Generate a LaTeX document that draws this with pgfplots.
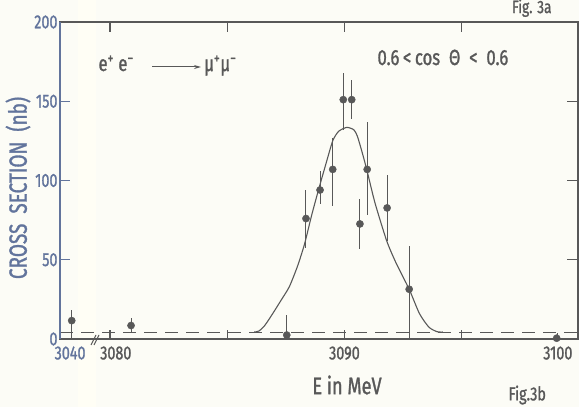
\documentclass[border=0pt]{standalone}
\usepackage{fontspec}
\setmainfont{Fira Sans}[FakeStretch=0.76, FakeBold=1.2]
\usepackage{pgfplots}
\pgfplotsset{compat=1.18}
\usetikzlibrary{arrows.meta}

\definecolor{ink}{RGB}{88,88,88}
\definecolor{slate}{RGB}{98,116,156}
\definecolor{paper}{RGB}{252,252,246}

\begin{document}
\begin{tikzpicture}
\fill[paper] (0,0) rectangle (579bp,407bp);
\useasboundingbox (0,0) rectangle (579bp,407bp);
\fill[yellow!4] (78bp,0) rectangle (96bp,407bp);

\begin{axis}[
  at={(60bp,68bp)}, anchor=south west,
  scale only axis, width=518bp, height=317bp,
  xmin=3077.87, xmax=3099.96, ymin=0, ymax=200,
  clip=false,
  axis line style={ink, line width=1.3bp},
  xtick={3080,3085,3090,3095}, xticklabels={,,3090,},
  ytick={0,50,100,150,200},
  tick align=inside, xtick pos=both, ytick pos=both,
  major tick length=9bp,
  tick style={ink, line width=1.3bp},
  /pgf/number format/assume math mode=true,
  xticklabel style={ink, font=\fontsize{19}{19}\selectfont, yshift=-4bp},
  yticklabel style={slate, font=\fontsize{19}{19}\selectfont, xshift=1bp},
]
% baseline (background level)
\addplot[ink, line width=1bp, dash pattern=on 13bp off 8bp]
  coordinates {(3077.87,4.4) (3099.96,4.4)};

% fitted resonance curve
\addplot[ink, line width=1.1bp, smooth, tension=0.4] coordinates {
  (3086.15,4.4) (3086.35,5) (3086.6,8.5) (3086.94,16) (3087.3,24.5)
  (3087.65,33) (3088.0,46) (3088.3,60) (3088.6,78) (3088.93,96)
  (3089.22,111) (3089.5,125) (3089.75,131) (3090.1,133.5) (3090.4,132)
  (3090.55,128) (3090.75,118) (3090.95,107) (3091.3,86) (3091.8,62)
  (3092.2,48) (3092.76,31.4) (3093.2,16) (3093.6,7.5) (3093.95,4.6)
  (3094.2,4.4)
};

% measured points
\addplot[ink, only marks, mark=*, mark size=3.6bp,
  error bars/.cd, y dir=both, y explicit, error mark=none,
  error bar style={ink, line width=1bp}]
  coordinates {
  (3078.37,11.6) += (0,7) -= (0,11)
  (3080.90,8.5) += (0,4.8) -= (0,4.2)
  (3087.54,2.5) += (0,12.5) -= (0,2.5)
  (3088.36,76) += (0,18) -= (0,18.6)
  (3088.96,94) += (0,12) -= (0,9)
  (3089.50,107) += (0,20) -= (0,23)
  (3089.95,151) += (0,17) -= (0,19)
  (3090.31,151) += (0,12.5) -= (0,12.4)
  (3090.66,72.6) += (0,16) -= (0,16)
  (3090.97,107) += (0,30) -= (0,28.5)
  (3091.82,82.7) += (0,21) -= (0,21)
  (3092.76,31.4) += (0,27) -= (0,31)
  (3099.05,0.5) += (0,0) -= (0,0)
};

% inward ticks as drawn in the scan
\draw[ink, line width=1.3bp]
  (axis cs:3080,200) -- (axis cs:3080,194) (axis cs:3085,200) -- (axis cs:3085,194)
  (axis cs:3090,200) -- (axis cs:3090,194) (axis cs:3095,200) -- (axis cs:3095,194)
  (axis cs:3080,0) -- (axis cs:3080,4) (axis cs:3085,0) -- (axis cs:3085,4)
  (axis cs:3090,0) -- (axis cs:3090,4) (axis cs:3095,0) -- (axis cs:3095,4)
  (axis cs:3099.1,0) -- (axis cs:3099.1,4)
  (axis cs:3099.96,50) -- (axis cs:3099.5,50) (axis cs:3099.96,100) -- (axis cs:3099.5,100)
  (axis cs:3099.96,150) -- (axis cs:3099.5,150);
\draw[slate, line width=1.3bp]
  (axis cs:3077.87,50) -- (axis cs:3078.3,50) (axis cs:3077.87,100) -- (axis cs:3078.3,100)
  (axis cs:3077.87,150) -- (axis cs:3078.3,150);
% left axis line is bluish in the scan
\draw[slate, line width=1.3bp] (rel axis cs:0,0) -- (rel axis cs:0,1);
% labels of the broken scale
\node[slate, anchor=north, font=\fontsize{19}{19}\selectfont, yshift=-4bp]
  at (axis cs:3078.3,0) {3040};
\node[ink, anchor=north, font=\fontsize{19}{19}\selectfont, yshift=-4bp]
  at (axis cs:3080.25,0) {3080};
\node[ink, anchor=north, font=\fontsize{19}{19}\selectfont, yshift=-4bp]
  at (axis cs:3099.1,0) {3100};
\end{axis}

% axis break
\draw[ink, line width=1bp] (91bp,62bp) -- (96bp,72bp);
\draw[ink, line width=1bp] (94bp,62bp) -- (99bp,72bp);

% labels
\node[slate, rotate=90, font=\fontsize{25}{25}\selectfont] at (18bp,219bp)
  {CROSS\ \ SECTION\ \ (nb)};
\node[ink, font=\fontsize{24}{24}\selectfont] at (347bp,22bp) {E in MeV};
\node[ink, anchor=east, font=\fontsize{18}{18}\selectfont] at (555bp,399bp) {Fig. 3a};
\node[ink, anchor=west, font=\fontsize{19}{19}\selectfont] at (505bp,12bp) {Fig.3b};

\node[ink, anchor=base west, font=\fontsize{22}{22}\selectfont] at (95bp,336bp)
  {e\textsuperscript{+}\ e\textsuperscript{−}};
\draw[ink, line width=1bp, -{Stealth[length=7bp,width=4bp]}] (152bp,340bp) -- (201bp,340bp);
\node[ink, anchor=base west, font=\fontsize{22}{22}\selectfont, inner sep=1bp] at (203bp,336bp)
  {μ\textsuperscript{+}μ\textsuperscript{−}};
\node[ink, anchor=base west, font=\fontsize{22}{22}\selectfont] at (374bp,342bp)
  {0.6\,<\,cos\ \ Θ\ \ <\ \ 0.6};
\end{tikzpicture}
\end{document}
